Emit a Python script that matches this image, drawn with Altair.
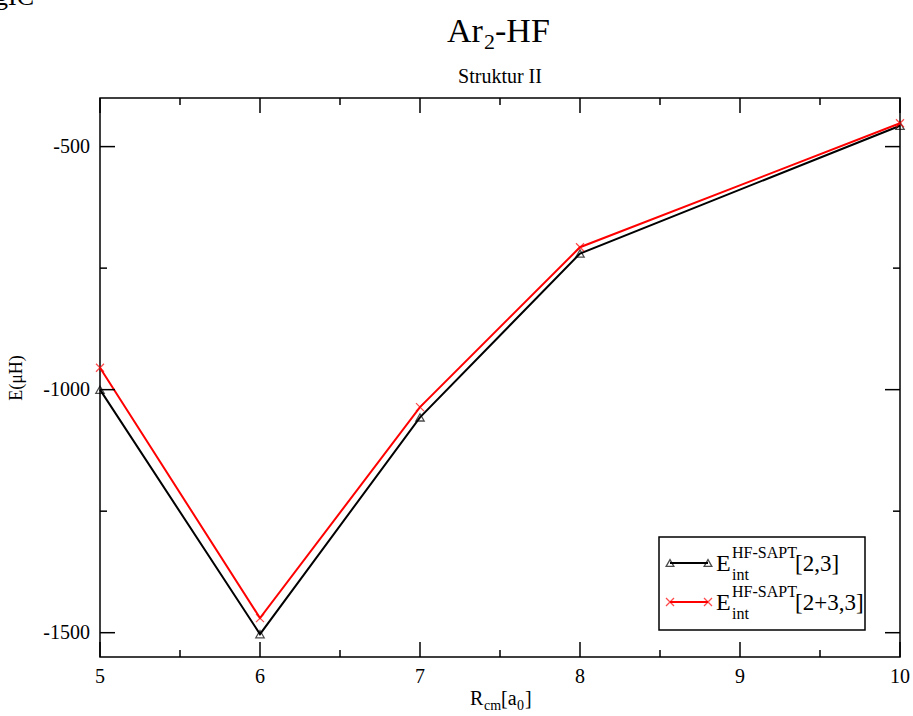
import altair as alt
import pandas as pd

# Interaction energies of Ar2-HF (structure II) vs. centre-of-mass distance
r_cm = [5, 6, 7, 8, 10]
e_2_3 = [-1000, -1503, -1057, -720, -457]
e_23_3 = [-955, -1470, -1036, -707, -452]

x_major = [5, 6, 7, 8, 9, 10]
x_minor = [5.5, 6.5, 7.5, 8.5, 9.5]
y_major = [-1500, -1000, -500]
y_minor = [-1250, -750]

W, H = 800, 559
FONT = "Liberation Serif"
MAJ, MIN = 15, 7

x_scale = alt.Scale(domain=[5, 10], nice=False, zero=False)
y_scale = alt.Scale(domain=[-1550, -400], nice=False, zero=False)


def X(field):
    return alt.X(f"{field}:Q", scale=x_scale, axis=None)


def Y(field):
    return alt.Y(f"{field}:Q", scale=y_scale, axis=None)


one = alt.Data(values=[{}])

df_a = pd.DataFrame({"r": r_cm, "e": e_2_3})
df_b = pd.DataFrame({"r": r_cm, "e": e_23_3})

cross_path = "M-1,-1L1,1M-1,1L1,-1"

line_a = alt.Chart(df_a).mark_line(color="black", strokeWidth=2).encode(x=X("r"), y=Y("e"))
pts_a = alt.Chart(df_a).mark_point(shape="triangle-up", filled=False, color="black",
                                   size=70, strokeWidth=1.3).encode(x=X("r"), y=Y("e"))
line_b = alt.Chart(df_b).mark_line(color="red", strokeWidth=2).encode(x=X("r"), y=Y("e"))
pts_b = alt.Chart(df_b).mark_point(shape=cross_path, filled=False, color="red",
                                   size=64, strokeWidth=1.3).encode(x=X("r"), y=Y("e"))


def xticks(vals, length):
    d = pd.DataFrame({"v": vals})
    bottom = alt.Chart(d).mark_rule(color="black", strokeWidth=1.5).encode(
        x=X("v"), y=alt.value(H), y2=alt.value(H - length))
    top = alt.Chart(d).mark_rule(color="black", strokeWidth=1.5).encode(
        x=X("v"), y=alt.value(0), y2=alt.value(length))
    return [bottom, top]


def yticks(vals, length):
    d = pd.DataFrame({"v": vals})
    left = alt.Chart(d).mark_rule(color="black", strokeWidth=1.5).encode(
        y=Y("v"), x=alt.value(0), x2=alt.value(length))
    right = alt.Chart(d).mark_rule(color="black", strokeWidth=1.5).encode(
        y=Y("v"), x=alt.value(W), x2=alt.value(W - length))
    return [left, right]


# tick labels, plain hyphen-minus for negative numbers
x_labels = alt.Chart(pd.DataFrame({"v": x_major})).transform_calculate(
    label="'' + datum.v"
).mark_text(font=FONT, fontSize=20, color="black", align="center",
            baseline="alphabetic").encode(x=X("v"), y=alt.value(H + 26), text="label:N")
y_labels = alt.Chart(pd.DataFrame({"v": y_major})).transform_calculate(
    label="'' + datum.v"
).mark_text(font=FONT, fontSize=20, color="black", align="right",
            baseline="middle").encode(y=Y("v"), x=alt.value(-10), text="label:N")


def txt(s, x, y, size, align="left", angle=0, baseline="alphabetic"):
    return alt.Chart(one).mark_text(
        text=s, font=FONT, fontSize=size, color="black", align=align,
        baseline=baseline, angle=angle
    ).encode(x=alt.value(x), y=alt.value(y))


texts = [
    # title  Ar2-HF
    txt("Ar", 347, -56, 34),
    txt("2", 384, -49, 22),
    txt("-HF", 395, -56, 34),
    txt("Struktur II", 400, -15, 20, align="center"),
    # axis titles
    txt("R", 370, 607, 20),
    txt("cm", 384, 612, 14),
    txt("[a", 401, 607, 20),
    txt("0", 417, 612, 14),
    txt("]", 425, 607, 20),
    txt("E(\u03bcH)", -83, 280, 18, align="center", angle=270, baseline="middle"),
    txt("gIC", -105, -93, 26),
]

# legend
leg_box = alt.Chart(one).mark_rect(fill="white", stroke="black", strokeWidth=1.5).encode(
    x=alt.value(559), x2=alt.value(765), y=alt.value(439), y2=alt.value(532))

legend = [leg_box]
rows = [("black", "triangle-up", "[2,3]", 465, 60), ("red", cross_path, "[2+3,3]", 504, 64)]
for color, shape, label, ly, msize in rows:
    legend.append(alt.Chart(one).mark_rule(color=color, strokeWidth=2).encode(
        x=alt.value(570), x2=alt.value(608), y=alt.value(ly)))
    ends = pd.DataFrame({"px": [570, 608], "py": [ly, ly]})
    legend.append(alt.Chart(ends).mark_point(shape=shape, filled=False, color=color,
                                             size=msize, strokeWidth=1.3).encode(
        x=alt.X("px:Q", scale=None), y=alt.Y("py:Q", scale=None)))
    legend += [
        txt("E", 616, ly + 8, 24),
        txt("HF-SAPT", 632, ly - 5, 16),
        txt("int", 632, ly + 17, 16),
        txt(label, 695, ly + 8, 23),
    ]

layers = ([line_a, pts_a, line_b, pts_b]
          + xticks(x_major, MAJ) + xticks(x_minor, MIN)
          + yticks(y_major, MAJ) + yticks(y_minor, MIN)
          + [x_labels, y_labels] + texts + legend)

chart = alt.layer(*layers).properties(
    width=W, height=H, autosize="none",
    padding={"left": 100, "top": 98, "right": 13, "bottom": 59},
    background="white",
).configure_view(
    stroke="black", strokeWidth=1.5
)

chart.save("out.html", embed_options={"renderer": "svg", "actions": False})
